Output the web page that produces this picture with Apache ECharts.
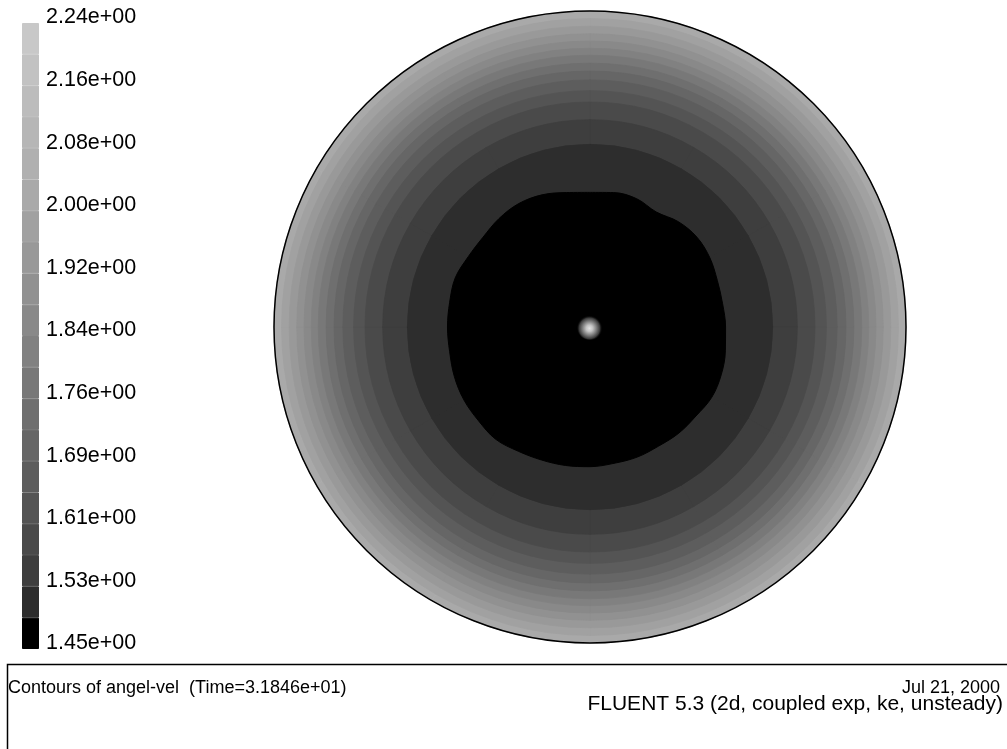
<!DOCTYPE html>
<html>
<head>
<meta charset="utf-8">
<script src="https://cdn.jsdelivr.net/npm/echarts@6/dist/echarts.min.js"></script>
<style>
html,body{margin:0;padding:0;background:#fff;}
#chart{width:1007px;height:749px;}
</style>
</head>
<body>
<div id="chart"></div>
<script>
// ---- data ----
// colour-bar tick labels (bottom to top), one every two bands; 20 bands in total
const tickLabels = ['1.45e+00','1.53e+00','1.61e+00','1.69e+00','1.76e+00','1.84e+00','1.92e+00','2.00e+00','2.08e+00','2.16e+00','2.24e+00'];
const bandCount = 20;
// angles (degrees, clockwise from the top) at which the black core edge was read
const coreAngles = [0,10,20,30,40,50,60,70,80,90,100,110,120,130,140,150,160,170,180,190,200,210,220,230,240,250,260,270,280,290,300,310,320,330,340,350,360];
// outer radius (r/R) of the lowest-level (black) core at those angles
const coreRadius = [0.426,0.432,0.432,0.42,0.435,0.442,0.438,0.429,0.426,0.429,0.435,0.442,0.445,0.438,0.438,0.435,0.438,0.438,0.442,0.445,0.448,0.454,0.464,0.461,0.461,0.457,0.451,0.451,0.451,0.454,0.445,0.442,0.448,0.451,0.445,0.432,0.426];
// outer radius (r/R) of contour bands 1..14 (band 14 reaches the wall)
const ringLevels = [1,2,3,4,5,6,7,8,9,10,11,12,13,14];
const ringRadius = [0.578,0.656,0.712,0.748,0.782,0.81,0.835,0.86,0.882,0.905,0.928,0.952,0.976,1.0];
// bright spot on the axis (r/R = 0)
const spotPoint = [[0, 0]];

// ---- styles ----
const grays = ['#000000','#2d2d2d','#3e3e3e','#4a4a4a','#545454','#5d5d5d','#666666','#6f6f6f','#787878','#818181','#898989','#919191','#999999','#a1a1a1','#a9a9a9','#b0b0b0','#b6b6b6','#bcbcbc','#c2c2c2','#c8c8c8'];

const chart = echarts.init(document.getElementById('chart'), null, {renderer:'canvas'});

const sectors = ['s0','s1','s2','s3','s4','s5','s6','s7','s8','s9','s10','s11'];
const series = [];
// colour bar: 20 stacked bands
for (let k = 0; k < bandCount; k++) {
  series.push({
    type:'bar', name:'band'+k, xAxisIndex:0, yAxisIndex:0, stack:'cb',
    data:[1], barWidth:'100%', silent:true,
    itemStyle:{color:grays[k], borderColor:grays[k], borderWidth:1}
  });
}
// contour rings, outermost first so that inner ones paint over
for (let i = ringLevels.length - 1; i >= 0; i--) {
  const c = grays[ringLevels[i]];
  series.push({
    type:'bar', coordinateSystem:'polar', polarIndex:0, name:'level'+ringLevels[i],
    data: sectors.map(() => ringRadius[i]),
    barCategoryGap:'0%', barGap:'-100%', silent:true,
    itemStyle:{color:c, borderColor:c, borderWidth:0.8}
  });
}
// black core (irregular edge)
series.push({
  type:'line', coordinateSystem:'polar', polarIndex:1, name:'level0',
  data: coreRadius.map((r, i) => [r, coreAngles[i]]),
  smooth:0.35, symbol:'none', silent:true, z:3,
  lineStyle:{color:'#000', width:1},
  areaStyle:{color:'#000', opacity:1}
});
// bright spot at the axis
series.push({
  type:'scatter', coordinateSystem:'polar', polarIndex:1, name:'spot',
  data: spotPoint, symbol:'circle', symbolSize:26, silent:true, z:6, clip:false,
  itemStyle:{opacity:1, color:{type:'radial', x:0.48, y:0.55, r:0.5, colorStops:[
    {offset:0, color:'#e4e4e4'},{offset:0.25, color:'#c4c4c4'},
    {offset:0.55, color:'#7a7a7a'},{offset:0.8, color:'#3a3a3a'},{offset:1, color:'rgba(0,0,0,0)'}]}}
});

const font = '"Liberation Sans", Arial, Helvetica, sans-serif';
const center = [590, 327];
const radius = 316;

chart.setOption({
  animation:false,
  backgroundColor:'#ffffff',
  title:[
    {text:'Contours of angel-vel  (Time=3.1846e+01)', left:8, top:679, padding:0,
     textStyle:{fontFamily:font, fontSize:18, fontWeight:'normal', color:'#000'}},
    {text:'Jul 21, 2000', right:7, top:679, padding:0,
     textStyle:{fontFamily:font, fontSize:18, fontWeight:'normal', color:'#000'}},
    {text:'FLUENT 5.3 (2d, coupled exp, ke, unsteady)', right:4, top:694, padding:0,
     textStyle:{fontFamily:font, fontSize:21, fontWeight:'normal', color:'#000'}}
  ],
  grid:{left:22, top:23, width:17, height:626},
  xAxis:{type:'category', data:['bar'], show:false},
  yAxis:{type:'value', min:0, max:bandCount, interval:2, position:'right',
    axisLine:{show:false}, axisTick:{show:false}, splitLine:{show:false},
    axisLabel:{margin:7, color:'#000', fontFamily:font, fontSize:21.5,
      verticalAlign:'bottom', lineHeight:11,
      formatter:(v) => tickLabels[Math.round(v/2)]}},
  polar:[{center:center, radius:radius},{center:center, radius:radius}],
  angleAxis:[
    {polarIndex:0, type:'category', data:sectors, startAngle:90, clockwise:true, z:10,
     axisLine:{show:true, lineStyle:{color:'#000', width:1.5}},
     axisTick:{show:false}, axisLabel:{show:false}, splitLine:{show:false}, splitArea:{show:false}},
    {polarIndex:1, type:'value', min:0, max:360, startAngle:90, clockwise:true, show:false,
     axisLine:{show:false}, axisTick:{show:false}, axisLabel:{show:false}, splitLine:{show:false}}
  ],
  radiusAxis:[
    {polarIndex:0, type:'value', min:0, max:1, show:false,
     axisLine:{show:false}, axisTick:{show:false}, axisLabel:{show:false}, splitLine:{show:false}},
    {polarIndex:1, type:'value', min:0, max:1, show:false,
     axisLine:{show:false}, axisTick:{show:false}, axisLabel:{show:false}, splitLine:{show:false}}
  ],
  graphic:[
    {type:'rect', left:5, top:662, shape:{width:1010, height:100}, silent:true,
     style:{fill:null, stroke:'#000', lineWidth:1.5}}
  ],
  series: series
});
</script>
</body>
</html>
